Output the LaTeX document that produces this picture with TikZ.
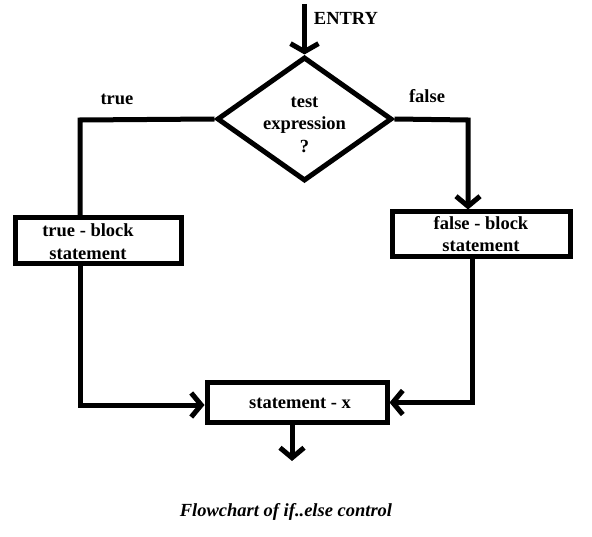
\documentclass[tikz,border=0pt]{standalone}
\usepackage{fontspec}
\setmainfont{Liberation Serif}
\usetikzlibrary{arrows.meta,shapes.geometric}
\tikzset{
  flow/.style={line width=5pt},
  arr/.style={flow,-{Straight Barb[length=10pt,width=24pt]}},
  boxst/.style={draw,line width=5pt,rectangle,inner sep=0pt},
  txt/.style={font=\fontsize{18.5}{22.5}\selectfont\bfseries,align=center,inner sep=0pt},
}
\begin{document}
\begin{tikzpicture}[x=1pt,y=-1pt]
\useasboundingbox (0,0) rectangle (592,537);
% decision
\node[draw,diamond,line width=5pt,minimum width=175pt,minimum height=124pt,inner sep=0pt] (dia) at (304.5,119) {};
\node[txt] (diatxt) at (304.5,124.5) {test\\expression\\?};
% boxes
\node[boxst,minimum width=166pt,minimum height=46pt] (tb) at (98,241) {};
\node[txt] (tbtxt) at (88,241.5) {true - block\\statement};
\node[boxst,minimum width=178pt,minimum height=45pt] (fb) at (481,234.5) {};
\node[txt] (fbtxt) at (481,234) {false - block\\statement};
\node[boxst,minimum width=180pt,minimum height=39pt] (sx) at (297,402.5) {};
\node[txt] (sxtxt) at (300,403) {statement - x};
% labels
\node[txt] (entrylbl) at (346,18) {ENTRY};
\node[txt] (truelbl) at (117,99) {true};
\node[txt] (falselbl) at (427,96) {false};
\node[txt,font=\fontsize{18.5}{22}\selectfont\bfseries\itshape] (cap) at (286,512) {Flowchart of if..else control};
% connectors
\coordinate (entry) at (304.5,4);
\draw[flow,-{Straight Barb[length=8pt,width=28pt]}] (entry) -- (dia.north);
\coordinate (tl) at (80,120);
\draw[flow] (dia.west) -- (tl) -- (tl |- tb.north);
\coordinate (fr) at (468,120);
\draw[arr] (dia.east) -- (fr) -- (fr |- fb.north);
\coordinate (tbot) at (80,264);
\coordinate (tcorner) at (80,405);
\draw[arr] (tbot) -- (tcorner) -- (tcorner -| sx.west);
\coordinate (fbot) at (472,257);
\coordinate (fcorner) at (472,402.5);
\draw[arr] (fbot) -- (fcorner) -- (sx.east);
\coordinate (sxbot) at (292,422);
\coordinate (exit) at (292,461);
\draw[arr] (sxbot) -- (exit);
\end{tikzpicture}
\end{document}
